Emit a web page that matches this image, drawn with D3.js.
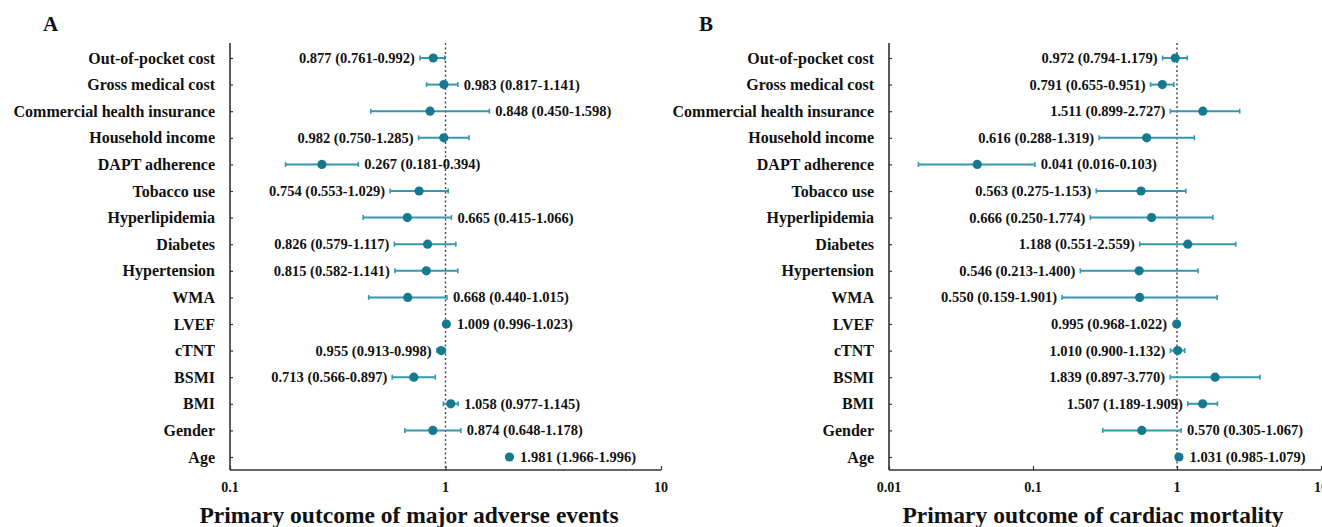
<!DOCTYPE html>
<html>
<head>
<meta charset="utf-8">
<script src="https://cdn.jsdelivr.net/npm/d3@7"></script>
<style>
  html, body { margin: 0; padding: 0; background: #fff; }
  svg { display: block; }
  text { font-family: "Liberation Serif", "Times New Roman", serif; font-weight: bold; fill: #111; }
</style>
</head>
<body>
<svg id="chart" width="1322" height="527"></svg>
<script>
// Covariates, listed top to bottom
const categories = [
  "Out-of-pocket cost", "Gross medical cost", "Commercial health insurance",
  "Household income", "DAPT adherence", "Tobacco use", "Hyperlipidemia",
  "Diabetes", "Hypertension", "WMA", "LVEF", "cTNT", "BSMI", "BMI", "Gender", "Age"
];

// Panel A: major adverse events — odds ratio with 95% CI
const maeOR    = [0.877, 0.983, 0.848, 0.982, 0.267, 0.754, 0.665, 0.826, 0.815, 0.668, 1.009, 0.955, 0.713, 1.058, 0.874, 1.981];
const maeLower = [0.761, 0.817, 0.450, 0.750, 0.181, 0.553, 0.415, 0.579, 0.582, 0.440, 0.996, 0.913, 0.566, 0.977, 0.648, 1.966];
const maeUpper = [0.992, 1.141, 1.598, 1.285, 0.394, 1.029, 1.066, 1.117, 1.141, 1.015, 1.023, 0.998, 0.897, 1.145, 1.178, 1.996];
const maeSide  = ["L", "R", "R", "L", "R", "L", "R", "L", "L", "R", "R", "L", "L", "R", "R", "R"];

// Panel B: cardiac mortality — odds ratio with 95% CI
const cmOR    = [0.972, 0.791, 1.511, 0.616, 0.041, 0.563, 0.666, 1.188, 0.546, 0.550, 0.995, 1.010, 1.839, 1.507, 0.570, 1.031];
const cmLower = [0.794, 0.655, 0.899, 0.288, 0.016, 0.275, 0.250, 0.551, 0.213, 0.159, 0.968, 0.900, 0.897, 1.189, 0.305, 0.985];
const cmUpper = [1.179, 0.951, 2.727, 1.319, 0.103, 1.153, 1.774, 2.559, 1.400, 1.901, 1.022, 1.132, 3.770, 1.909, 1.067, 1.079];
const cmSide  = ["L", "L", "L", "L", "R", "L", "L", "L", "L", "L", "L", "L", "L", "L", "R", "R"];

const ticksA = [0.1, 1, 10];
const ticksB = [0.01, 0.1, 1, 10];

const svg = d3.select("#chart");
const fmt = d3.format(".3f");

const pointColor = "#17798f";
const whiskerColor = "#3598ad";
const axisColor = "#333";

function panel(cfg) {
  const g = svg.append("g");
  const x = d3.scaleLog().domain(cfg.domain).range([cfg.x0, cfg.x1]);
  const y = d3.scalePoint().domain(categories).range([58, 457]);
  const top = 43, bottom = 470;

  // panel letter
  g.append("text").attr("x", cfg.letterX).attr("y", 31)
    .attr("font-size", 21).text(cfg.letter);

  // reference line at OR = 1
  g.append("line")
    .attr("x1", x(1)).attr("x2", x(1)).attr("y1", top).attr("y2", bottom)
    .attr("stroke", "#444").attr("stroke-width", 1.4).attr("stroke-dasharray", "2,2.5");

  // y axis with category labels
  const yAxis = d3.axisRight(y).tickSize(3).tickFormat("");
  const ya = g.append("g").attr("transform", `translate(${cfg.x0},0)`).call(yAxis);
  ya.select(".domain").attr("d", `M0,${top}V${bottom}`).attr("stroke", axisColor).attr("stroke-width", 1.6);
  ya.selectAll(".tick line").attr("stroke", axisColor).attr("stroke-width", 1.2);

  g.append("g").selectAll("text.cat").data(categories).join("text")
    .attr("class", "cat")
    .attr("x", cfg.x0 - 15).attr("y", d => y(d)).attr("dy", "0.35em")
    .attr("text-anchor", "end").attr("font-size", 16)
    .text(d => d);

  // x axis
  const xAxis = d3.axisTop(x).tickValues(cfg.ticks).tickSize(4).tickFormat("");
  const xa = g.append("g").attr("transform", `translate(0,${bottom})`).call(xAxis);
  xa.select(".domain").attr("d", `M${cfg.x0},0H${cfg.x1}`).attr("stroke", axisColor).attr("stroke-width", 1.6);
  xa.selectAll(".tick line").attr("stroke", axisColor).attr("stroke-width", 1.2);

  g.append("g").selectAll("text.tick").data(cfg.ticks).join("text")
    .attr("x", d => x(d)).attr("y", bottom + 22)
    .attr("text-anchor", "middle").attr("font-size", 14)
    .text(d => String(d));

  // axis title
  g.append("text").attr("x", cfg.titleX).attr("y", 523)
    .attr("text-anchor", "middle").attr("font-size", 23.5)
    .text(cfg.title);

  const rows = categories.map((c, i) => ({
    c, or: cfg.or[i], lo: cfg.lo[i], hi: cfg.hi[i], side: cfg.side[i]
  }));

  const rowG = g.append("g").selectAll("g").data(rows).join("g")
    .attr("transform", d => `translate(0,${y(d.c)})`);

  // confidence interval whiskers with end caps
  rowG.append("line")
    .attr("x1", d => x(d.lo)).attr("x2", d => x(d.hi))
    .attr("stroke", whiskerColor).attr("stroke-width", 2);
  rowG.append("line")
    .attr("x1", d => x(d.lo)).attr("x2", d => x(d.lo)).attr("y1", -2.5).attr("y2", 2.5)
    .attr("stroke", whiskerColor).attr("stroke-width", 1.6);
  rowG.append("line")
    .attr("x1", d => x(d.hi)).attr("x2", d => x(d.hi)).attr("y1", -2.5).attr("y2", 2.5)
    .attr("stroke", whiskerColor).attr("stroke-width", 1.6);

  // point estimate
  rowG.append("circle")
    .attr("cx", d => x(d.or)).attr("r", 4.6)
    .attr("fill", pointColor);

  // value labels
  rowG.append("text")
    .attr("x", d => d.side === "L"
      ? Math.min(x(d.lo), x(d.or) - 4.6) - 5
      : Math.max(x(d.hi), x(d.or) + 4.6) + 6)
    .attr("dy", "0.35em")
    .attr("text-anchor", d => d.side === "L" ? "end" : "start")
    .attr("font-size", 14.5)
    .text(d => `${fmt(d.or)} (${fmt(d.lo)}-${fmt(d.hi)})`);
}

panel({
  letter: "A", letterX: 43,
  domain: [0.1, 10], x0: 230, x1: 661, ticks: ticksA,
  or: maeOR, lo: maeLower, hi: maeUpper, side: maeSide,
  title: "Primary outcome of major adverse events", titleX: 409
});

panel({
  letter: "B", letterX: 699,
  domain: [0.01, 10], x0: 889, x1: 1321, ticks: ticksB,
  or: cmOR, lo: cmLower, hi: cmUpper, side: cmSide,
  title: "Primary outcome of cardiac mortality", titleX: 1093
});
</script>
</body>
</html>
